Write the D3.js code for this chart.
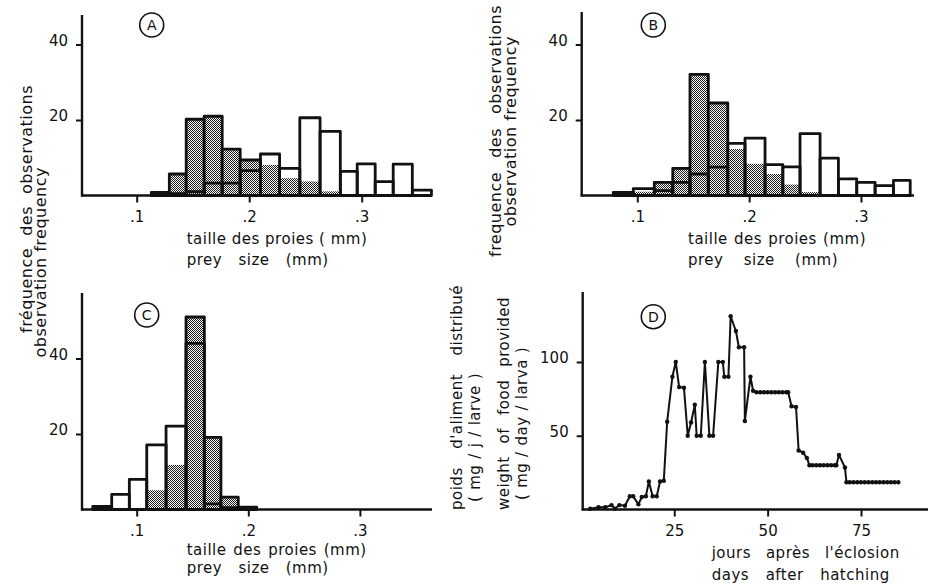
<!DOCTYPE html>
<html><head><meta charset="utf-8">
<script src="https://cdn.jsdelivr.net/npm/d3@7"></script>
<style>
body{margin:0;background:#fff}
text{font-family:"DejaVu Sans",sans-serif;fill:#111}
</style>
</head><body>
<svg id="c" width="935" height="584"></svg>
<script>
// ---------- DATA ----------
// Panel A : bin edges (mm), stippled series and open series (observations)
const edgesA    = [0.113,0.129,0.144,0.160,0.176,0.192,0.210,0.227,0.245,0.263,0.281,0.296,0.312,0.328,0.345,0.362];
const stippledA = [0.8,5.7,20.2,21.0,12.3,9.4,8.1,4.6,3.7,1.1,0.3,0,0,0,0];
const openA     = [0.3,0.5,1.0,3.3,3.3,6.6,11.0,7.2,20.6,17.0,6.4,8.4,3.7,8.3,1.4];
// Panel B
const edgesB    = [0.0785,0.0964,0.1152,0.1317,0.1471,0.1635,0.1809,0.1963,0.2142,0.2301,0.2455,0.2634,0.2798,0.2962,0.3126,0.3290,0.3440];
const stippledB = [0.5,1.0,3.5,7.2,32.1,24.5,12.3,8.4,5.7,2.9,0.9,0,0,0,0,0];
const openB     = [0.8,1.8,1.3,3.5,5.7,7.5,13.8,15.2,8.2,7.6,16.4,9.9,4.4,3.5,2.6,4.0];
// Panel C
const edgesC    = [0.0606,0.0776,0.0934,0.109,0.1263,0.1442,0.1606,0.1755,0.191,0.2075];
const stippledC = [0.5,0.4,0.4,5.1,11.8,51.0,19.1,3.3,0.3];
const openC     = [0.8,4.0,8.0,17.1,22.1,44.0,1.5,0.5,0.6];
// Panel D : days after hatching, weight of food (mg/day/larva)
const daysD = [2.5,4.7,6.5,8.2,9.1,10.3,11.8,13.1,14.0,15.4,16.3,17.4,18.2,19.2,20.3,21.2,22.2,23.1,24.5,25.4,
  26.3,27.6,28.6,29.5,30.5,31.0,32.1,33.2,34.4,35.4,36.8,38.0,38.4,39.5,40.1,41.5,42.3,43.7,43.9,45.4,46.1,
  47,48,49,50,51,52,53,54,55,55.5,56.4,57.6,58.3,59.5,60.5,61.2,62,63,64,65,66,67,68,68.4,69.1,70.7,71.1,
  72,73,74,75,76,77,78,79,80,81,82,83,84,85];
const foodD = [0.5,1.5,1.5,3,0.5,3,2.5,9,9,3.5,8.5,9,19,9,9,19,19.5,59.5,90,100,
  83,82.5,50,59,71,50,50,100,50,50,100,100,90,90,131,121,110,110,60,90,80.5,
  79.5,79.5,79.5,79.5,79.5,79.5,79.5,79.5,79.5,79.5,70,69.5,40,38.5,35,30,30,30,30,30,30,30,30,30,37,28.5,18.5,
  18.5,18.5,18.5,18.5,18.5,18.5,18.5,18.5,18.5,18.5,18.5,18.5,18.5,18.5];
const histTicks = [0.1,0.2,0.3];
const freqTicks = [20,40];
const dayTicks = [25,50,75];
const foodTicks = [50,100];

// ---------- DRAW ----------
const svg = d3.select("#c");
const ink = "#111";
const defs = svg.append("defs");
const pat = defs.append("pattern").attr("id","stip").attr("patternUnits","userSpaceOnUse")
  .attr("width",2).attr("height",2);
pat.append("rect").attr("width",2).attr("height",2).attr("fill","#fff");
pat.append("rect").attr("x",0).attr("y",0).attr("width",1).attr("height",1).attr("fill","#1a1a1a");
pat.append("rect").attr("x",1).attr("y",1).attr("width",1).attr("height",1).attr("fill","#1a1a1a");

function styleAxis(g){
  g.select(".domain").remove();
  g.selectAll(".tick line").attr("stroke",ink).attr("stroke-width",2);
  g.selectAll(".tick text").attr("font-size",15).attr("font-family","DejaVu Sans").attr("fill",ink);
}

function panelAxes(x, y, xTicks, yTicks, fmt, axisX, xEnd, yTop){
  const y0 = y(0);
  svg.append("line").attr("x1",axisX).attr("x2",axisX).attr("y1",y0+1).attr("y2",yTop)
    .attr("stroke",ink).attr("stroke-width",2.4);
  svg.append("line").attr("x1",axisX-1).attr("x2",xEnd).attr("y1",y0).attr("y2",y0)
    .attr("stroke",ink).attr("stroke-width",2.4);
  const gx = svg.append("g").attr("transform",`translate(0,${y0})`)
    .call(d3.axisBottom(x).tickValues(xTicks).tickFormat(fmt).tickSize(7).tickPadding(9));
  styleAxis(gx);
  const gy = svg.append("g").attr("transform",`translate(${axisX},0)`)
    .call(d3.axisLeft(y).tickValues(yTicks).tickSize(6).tickPadding(8));
  styleAxis(gy);
  gy.selectAll(".tick text").attr("dy","0.05em");
}

function histo(x, y, edges, stip, open){
  const bins = stip.map((s,i)=>({x0:edges[i],x1:edges[i+1],s:s,w:open[i]}));
  const g = svg.append("g");
  g.selectAll("rect.s").data(bins.filter(d=>d.s>0)).join("rect").attr("class","s")
    .attr("x",d=>x(d.x0)).attr("width",d=>x(d.x1)-x(d.x0))
    .attr("y",d=>y(d.s)).attr("height",d=>y(0)-y(d.s))
    .attr("fill","url(#stip)")
    .attr("stroke",d=>d.s>=d.w?ink:"none").attr("stroke-width",2.8).attr("stroke-linejoin","round");
  g.selectAll("rect.w").data(bins.filter(d=>d.w>0)).join("rect").attr("class","w")
    .attr("x",d=>x(d.x0)).attr("width",d=>x(d.x1)-x(d.x0))
    .attr("y",d=>y(d.w)).attr("height",d=>y(0)-y(d.w))
    .attr("fill","none").attr("stroke",ink).attr("stroke-width",2.8).attr("stroke-linejoin","round");
}

function badge(cx, cy, letter){
  svg.append("circle").attr("cx",cx).attr("cy",cy).attr("r",12).attr("fill","#fff")
    .attr("stroke",ink).attr("stroke-width",1.6);
  svg.append("text").attr("x",cx).attr("y",cy+5).attr("text-anchor","middle")
    .attr("font-size",14).text(letter);
}

// widen word gaps so a line reaches its measured length
function fit(t, len){
  const n = (t.text().match(/ /g)||[]).length;
  const nat = t.node().getComputedTextLength();
  if(n>0) t.attr("word-spacing", Math.max(0,(len-nat)/n).toFixed(2));
}
function htext(x, y, s, len){
  const t = svg.append("text").attr("x",x).attr("y",y).attr("font-size",15)
    .attr("letter-spacing",0.5).text(s);
  fit(t,len);
}
function vtext(x, yEnd, s, len, fs){
  const t = svg.append("text").attr("transform",`translate(${x},${yEnd}) rotate(-90)`)
    .attr("text-anchor","end").attr("font-size",fs).attr("letter-spacing",0.5).text(s);
  fit(t,len);
}
const fmtMM = d=>"."+Math.round(d*10);

// Panel A
const xA = d3.scaleLinear().domain([0.1,0.3]).range([136.7,361.7]);
const yA = d3.scaleLinear().domain([0,40]).range([195.5,44.5]);
histo(xA,yA,edgesA,stippledA,openA);
panelAxes(xA,yA,histTicks,freqTicks,fmtMM,82,432,15);
badge(151.7,25,"A");
htext(186.7,244,"taille des proies ( mm)",180);
htext(186.7,265,"prey size (mm)",142);

// Panel B
const xB = d3.scaleLinear().domain([0.1,0.3]).range([637.3,861]);
const yB = d3.scaleLinear().domain([0,40]).range([195.5,44.5]);
histo(xB,yB,edgesB,stippledB,openB);
panelAxes(xB,yB,histTicks,freqTicks,fmtMM,581.7,914,12);
badge(653.3,25,"B");
htext(688,244,"taille des proies (mm)",178);
htext(688,265,"prey size (mm)",150);

// Panel C
const xC = d3.scaleLinear().domain([0.1,0.2]).range([136.7,248.3]);
const yC = d3.scaleLinear().domain([0,40]).range([509.5,358.5]);
histo(xC,yC,edgesC,stippledC,openC);
panelAxes(xC,yC,histTicks,freqTicks,fmtMM,82,432,293);
badge(146.7,315,"C");
htext(186.7,555,"taille des proies (mm)",180);
htext(186.7,573,"prey size (mm)",142);

// Panel D
const xD = d3.scaleLinear().domain([0,75]).range([580.9,861]);
const yD = d3.scaleLinear().domain([0,100]).range([509.5,362]);
panelAxes(xD,yD,dayTicks,foodTicks,d=>d,582.7,928,292);
const pts = daysD.map((d,i)=>[d,foodD[i]]);
svg.append("path").datum(pts).attr("fill","none").attr("stroke",ink).attr("stroke-width",2)
  .attr("stroke-linejoin","round")
  .attr("d",d3.line().x(d=>xD(d[0])).y(d=>yD(d[1])));
svg.append("g").selectAll("circle").data(pts).join("circle")
  .attr("cx",d=>xD(d[0])).attr("cy",d=>yD(d[1])).attr("r",2.2).attr("fill",ink);
badge(653.3,316.7,"D");
htext(711.7,558,"jours après l'éclosion",188);
htext(711.7,580,"days after hatching",178);

// Y titles
vtext(32,85,"fréquence des observations",248,16);
vtext(46,167,"observation frequency",182,16);
vtext(501,5,"frequence des observations",252,16);
vtext(516,36,"observation frequency",180,16);
vtext(462,285,"poids d'aliment distribué",225,15);
vtext(480,373,"( mg / j / larve )",129,15);
vtext(509,297,"weight of food provided",213,15);
vtext(527,347,"( mg / day / larva )",153,15);
</script></body></html>
